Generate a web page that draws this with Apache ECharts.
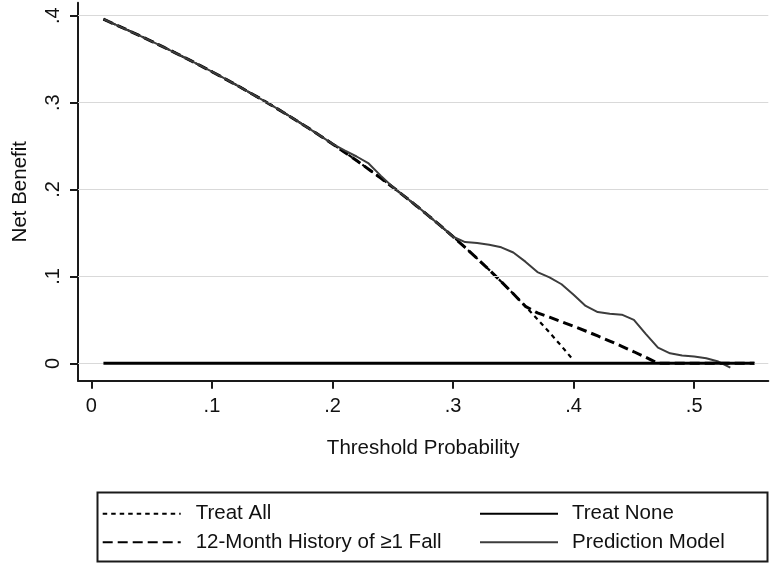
<!DOCTYPE html>
<html><head><meta charset="utf-8">
<script src="https://cdn.jsdelivr.net/npm/echarts@6/dist/echarts.min.js"></script>
<style>html,body{margin:0;padding:0;background:#fff}#c{width:771px;height:564px}</style>
</head><body><div id="c"></div>
<script>
const thresholds = [0.01,0.02,0.03,0.04,0.05,0.06,0.07,0.08,0.09,0.10,0.11,0.12,0.13,0.14,0.15,0.16,0.17,0.18,0.19,0.20,
  0.21,0.22,0.23,0.24,0.25,0.26,0.27,0.28,0.29,0.30,0.31,0.32,0.33,0.34,0.35,0.36,0.37,0.38,0.39,0.40,
  0.41,0.42,0.43,0.44,0.45,0.46,0.47,0.48,0.49,0.50,0.51,0.52,0.53,0.54,0.55];
const treatAll = [0.3960,0.3898,0.3835,0.3771,0.3705,0.3638,0.3570,0.3500,0.3429,0.3356,0.3281,0.3205,0.3126,0.3047,0.2965,0.2881,0.2795,0.2707,0.2617,0.2525,
  0.2430,0.2333,0.2234,0.2132,0.2027,0.1919,0.1808,0.1694,0.1578,0.1457,0.1333,0.1206,0.1075,0.0939,0.0800,0.0656,0.0508,0.0355,0.0197,0.0033];
const treatNone = [0,0,0,0,0,0,0,0,0,0,0,0,0,0,0,0,0,0,0,0,0,0,0,0,0,0,0,0,0,0,0,0,0,0,0,0,0,0,0,0,0,0,0,0,0,0,0,0,0,0,0,0,0,0,0];
const history = [0.3960,0.3898,0.3835,0.3771,0.3705,0.3638,0.3570,0.3500,0.3429,0.3356,0.3281,0.3205,0.3126,0.3047,0.2965,0.2881,0.2795,0.2707,0.2617,0.2525,
  0.2430,0.2333,0.2234,0.2132,0.2027,0.1919,0.1808,0.1694,0.1578,0.1457,0.1333,0.1206,0.1075,0.0939,0.0800,0.0656,0.0580,0.0531,0.0479,0.0426,
  0.0372,0.0315,0.0256,0.0196,0.0133,0.0068,0,0,0,0,0,0,0,0,0];
const prediction = [0.3960,0.3898,0.3835,0.3771,0.3705,0.3638,0.3570,0.3500,0.3429,0.3356,0.3281,0.3205,0.3126,0.3047,0.2965,0.2881,0.2795,0.2707,0.2617,0.2525,
  0.2450,0.2380,0.2300,0.2160,0.2030,0.1920,0.1810,0.1694,0.1578,0.1457,0.1395,0.1385,0.1365,0.1335,0.1275,0.1170,0.1050,0.0990,0.0910,0.0790,
  0.0660,0.0590,0.0570,0.0560,0.0500,0.0336,0.0180,0.0115,0.0090,0.0078,0.0058,0.0020,-0.0050];
const xTicks = [0,0.1,0.2,0.3,0.4,0.5];
const yTicks = [0,0.1,0.2,0.3,0.4];
const legendLeft = ['Treat All','12-Month History of \u22651 Fall'];
const legendRight = ['Treat None','Prediction Model'];

const pairs = vals => vals.map((v,i)=>[thresholds[i], v]);
const fmt = v => v === 0 ? '0' : '.' + Math.round(v*10);
const FONT = '"Liberation Sans", Arial, Helvetica, sans-serif';
const TXT = '#111';

const chart = echarts.init(document.getElementById('c'), null, {renderer:'canvas'});
chart.setOption({
  animation:false,
  backgroundColor:'#fff',
  textStyle:{fontFamily:FONT},
  grid:{left:78, right:2.7, top:2.7, bottom:183.3, containLabel:false, outerBoundsMode:'none'},
  xAxis:{type:'value', min:-0.0111, max:0.5615,
    axisLine:{show:true, onZero:false, lineStyle:{color:'#1a1a1a', width:2}},
    axisTick:{show:true, customValues:xTicks, length:8, lineStyle:{color:'#1a1a1a', width:2}},
    axisLabel:{show:true, customValues:xTicks, formatter:fmt, fontSize:20, color:TXT, margin:16, fontFamily:FONT},
    splitLine:{show:false},
    name:'Threshold Probability', nameLocation:'middle', nameGap:57,
    nameTextStyle:{fontSize:20.5, color:TXT, fontFamily:FONT}},
  yAxis:{type:'value', min:-0.02, max:0.415,
    axisLine:{show:true, onZero:false, lineStyle:{color:'#1a1a1a', width:2}},
    axisTick:{show:true, customValues:yTicks, length:8, lineStyle:{color:'#1a1a1a', width:2}},
    axisLabel:{show:true, customValues:yTicks, formatter:fmt, rotate:90, fontSize:20, color:TXT, margin:15, fontFamily:FONT},
    splitLine:{show:false},
    name:'Net Benefit', nameLocation:'middle', nameGap:47, nameRotate:90,
    nameTextStyle:{fontSize:20.5, color:TXT, fontFamily:FONT}},
  legend:[
    {data:legendLeft, orient:'vertical', left:101.7, top:502.3, padding:0, itemWidth:78, itemHeight:14, itemGap:5.4,
     itemStyle:{opacity:0, borderWidth:0},
     textStyle:{fontSize:20.5, lineHeight:23, color:TXT, fontFamily:FONT, padding:[0,0,0,10]}},
    {data:legendRight, orient:'vertical', left:479, top:502.3, padding:0, itemWidth:78, itemHeight:14, itemGap:5.4,
     itemStyle:{opacity:0, borderWidth:0},
     textStyle:{fontSize:20.5, lineHeight:23, color:TXT, fontFamily:FONT, padding:[0,0,0,9]}}
  ],
  graphic:[{type:'rect', left:95, top:490, shape:{width:670, height:69},
    style:{fill:'none', stroke:'#1a1a1a', lineWidth:2}, z:-1}],
  series:[
    {name:'grid', type:'line', data:[], z:1, silent:true,
     markLine:{silent:true, symbol:['none','none'], label:{show:false},
       lineStyle:{color:'#d9d9d9', width:1.2, type:'solid'},
       data:yTicks.map(v=>({yAxis:v}))}},
    {name:'Treat All', type:'line', data:pairs(treatAll), symbol:'none', z:3,
     lineStyle:{color:'#000', width:2.2, type:[4.5,4]}, itemStyle:{color:'#000'}},
    {name:'12-Month History of \u22651 Fall', type:'line', data:pairs(history), symbol:'none', z:4,
     lineStyle:{color:'#000', width:3, type:[10,5]}, itemStyle:{color:'#000'}},
    {name:'Prediction Model', type:'line', data:pairs(prediction), symbol:'none', z:5,
     lineStyle:{color:'#3c3c3c', width:2, type:'solid'}, itemStyle:{color:'#3c3c3c'}},
    {name:'Treat None', type:'line', data:pairs(treatNone), symbol:'none', z:6,
     lineStyle:{color:'#000', width:3, type:'solid', cap:'butt'}, itemStyle:{color:'#000'}}
  ]
});
</script></body></html>
